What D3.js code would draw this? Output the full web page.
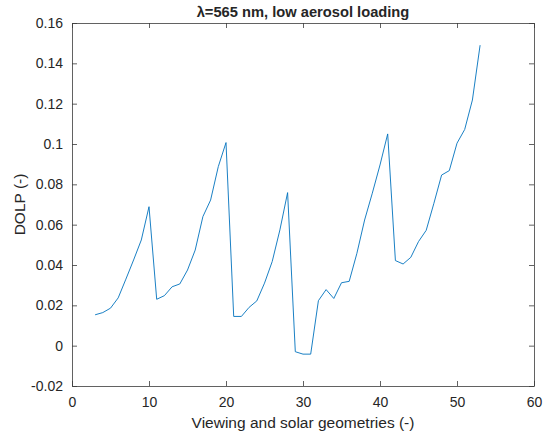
<!DOCTYPE html>
<html>
<head>
<meta charset="utf-8">
<script src="https://cdn.jsdelivr.net/npm/d3@7"></script>
<style>
  body { margin: 0; background: #fff; }
  svg { display: block; }
  text { font-family: "Liberation Sans", Arial, Helvetica, sans-serif; fill: #262626; }
</style>
</head>
<body>
<svg id="chart" width="544" height="439"></svg>
<script>
// Data
const geometries = [3,4,5,6,7,8,9,10,11,12,13,14,15,16,17,18,19,20,21,22,23,24,25,26,27,28,29,30,31,32,33,34,35,36,37,38,39,40,41,42,43,44,45,46,47,48,49,50,51,52,53];
const dolp = [0.0153,0.0164,0.0186,0.0237,0.0330,0.0425,0.0524,0.0689,0.0230,0.0248,0.0292,0.0306,0.0375,0.0474,0.0640,0.0722,0.0888,0.1007,0.0145,0.0145,0.0190,0.0222,0.0310,0.0417,0.0574,0.0759,-0.0030,-0.0042,-0.0042,0.0223,0.0278,0.0234,0.0312,0.0319,0.0458,0.0623,0.0756,0.0896,0.1050,0.0422,0.0405,0.0438,0.0516,0.0572,0.0706,0.0846,0.0868,0.1004,0.1072,0.1218,0.1490];
const xTicks = [0,10,20,30,40,50,60];
const yTicks = [-0.02,0,0.02,0.04,0.06,0.08,0.1,0.12,0.14,0.16];
const yTickLabels = ["-0.02","0","0.02","0.04","0.06","0.08","0.1","0.12","0.14","0.16"];
const titleText = "λ=565 nm, low aerosol loading";
const xLabel = "Viewing and solar geometries (-)";
const yLabel = "DOLP (-)";

const svg = d3.select("#chart");
const m = {left: 72, right: 534, top: 23, bottom: 386};
const x = d3.scaleLinear().domain([0, 60]).range([m.left, m.right]);
const y = d3.scaleLinear().domain([-0.02, 0.16]).range([m.bottom, m.top]);

const axisColor = "#262626";
const fmtY = d => yTickLabels[yTicks.findIndex(t => Math.abs(t - d) < 1e-9)];

function styleAxis(g) {
  g.selectAll("path").attr("stroke", "#3a3a3a").attr("stroke-width", 0.8);
  g.selectAll("line").attr("stroke", "#3a3a3a").attr("stroke-width", 0.8);
  g.selectAll("text").attr("fill", axisColor).style("font-size", "14px")
    .style("font-family", '"Liberation Sans", Arial, sans-serif');
}

// bottom axis
const gx = svg.append("g").attr("transform", `translate(0,${m.bottom})`)
  .call(d3.axisBottom(x).tickValues(xTicks).tickSizeInner(-5).tickSizeOuter(0).tickPadding(11).tickFormat(d3.format("d")));
styleAxis(gx);
// top axis
const gxt = svg.append("g").attr("transform", `translate(0,${m.top})`)
  .call(d3.axisTop(x).tickValues(xTicks).tickSizeInner(-5).tickSizeOuter(0).tickFormat(""));
styleAxis(gxt);
// left axis
const gy = svg.append("g").attr("transform", `translate(${m.left},0)`)
  .call(d3.axisLeft(y).tickValues(yTicks).tickSizeInner(-5).tickSizeOuter(0).tickPadding(9).tickFormat(fmtY));
styleAxis(gy);
// right axis
const gyr = svg.append("g").attr("transform", `translate(${m.right},0)`)
  .call(d3.axisRight(y).tickValues(yTicks).tickSizeInner(-5).tickSizeOuter(0).tickFormat(""));
styleAxis(gyr);

// Line
const line = d3.line().x((d, i) => x(geometries[i])).y(d => y(d));
svg.append("path").datum(dolp)
  .attr("d", line)
  .attr("fill", "none")
  .attr("stroke", "#0072BD")
  .attr("stroke-width", 0.9)
  .attr("stroke-linejoin", "round");

// Title
svg.append("text")
  .attr("x", (m.left + m.right) / 2).attr("y", 17)
  .attr("text-anchor", "middle")
  .style("font-size", "14.7px").style("font-weight", "bold")
  .attr("fill", "#000")
  .text(titleText);

// X label
svg.append("text")
  .attr("x", (m.left + m.right) / 2).attr("y", 428)
  .attr("text-anchor", "middle")
  .style("font-size", "15.5px")
  .text(xLabel);

// Y label
svg.append("text")
  .attr("transform", `translate(25,${(m.top + m.bottom) / 2}) rotate(-90)`)
  .attr("text-anchor", "middle")
  .style("font-size", "15.5px")
  .text(yLabel);
</script>
</body>
</html>
